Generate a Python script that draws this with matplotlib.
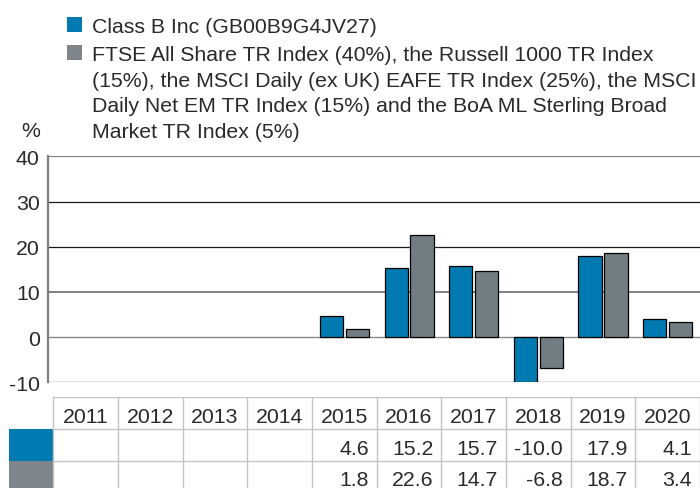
import matplotlib
matplotlib.use("Agg")
import matplotlib.pyplot as plt
from matplotlib.patches import Rectangle
import numpy as np

# ---- data ----
years = ["2011", "2012", "2013", "2014", "2015", "2016", "2017", "2018", "2019", "2020"]
fund_name = "Class B Inc (GB00B9G4JV27)"
index_lines = [
    "FTSE All Share TR Index (40%), the Russell 1000 TR Index",
    "(15%), the MSCI Daily (ex UK) EAFE TR Index (25%), the MSCI",
    "Daily Net EM TR Index (15%) and the BoA ML Sterling Broad",
    "Market TR Index (5%)",
]
fund_values = [None, None, None, None, 4.6, 15.2, 15.7, -10.0, 17.9, 4.1]
index_values = [None, None, None, None, 1.8, 22.6, 14.7, -6.8, 18.7, 3.4]
yticks = [-10, 0, 10, 20, 30, 40]

BLUE = "#007AB1"
GREY = "#717D83"
GREY_CELL = "#7E868C"
FONT = ["Liberation Sans", "DejaVu Sans"]
FS = 15.3
TXT = "#2a2a2a"

W, H = 700, 489
fig = plt.figure(figsize=(W / 100, H / 100), dpi=100)
plt.rcParams["font.family"] = FONT


def fx(px):
    return px / W


def fy(py):
    return 1 - py / H


# ---- main chart axes ----
ax_left, ax_top, ax_bottom = 48, 157.3, 383.3
ax = fig.add_axes([fx(ax_left), fy(ax_bottom), 1 - fx(ax_left), (ax_bottom - ax_top) / H])
ax.set_xlim(-0.587, 9.5)
ax.set_ylim(-10, 40)

x = np.arange(len(years))
fv = np.array([np.nan if v is None else v for v in fund_values])
iv = np.array([np.nan if v is None else v for v in index_values])
bw = 0.36
off = 0.2
# gridlines
grid_styles = {40: ("#808080", 1.6), 30: ("#1a1a1a", 0.9), 20: ("#1a1a1a", 0.9),
               10: ("#808080", 1.4), 0: ("#8a8a8a", 1.0), -10: ("#1a1a1a", 0.9)}
for yv in yticks:
    c, lw = grid_styles[yv]
    ax.axhline(yv, color=c, lw=lw, zorder=1)

ax.bar(x - off, fv, width=bw, color=BLUE, edgecolor="black", linewidth=0.9, zorder=3)
ax.bar(x + off, iv, width=bw, color=GREY, edgecolor="black", linewidth=0.9, zorder=3)

for s in ["top", "right", "bottom"]:
    ax.spines[s].set_visible(False)
ax.spines["left"].set_color("#808080")
ax.spines["left"].set_linewidth(1.6)
ax.set_xticks([])
ax.set_yticks(yticks)
ax.set_yticklabels([str(t) for t in yticks], fontsize=FS, color=TXT)
ax.tick_params(axis="y", length=0, pad=6)

# ---- legend ----
fig.patches.append(Rectangle((fx(67), fy(32.7)), fx(15), 14.4 / H, transform=fig.transFigure,
                             facecolor=BLUE, edgecolor="none"))
fig.patches.append(Rectangle((fx(67), fy(60.7)), fx(15), 14.4 / H, transform=fig.transFigure,
                             facecolor=GREY_CELL, edgecolor="none"))
fig.text(fx(92), fy(33), fund_name, fontsize=FS, va="baseline", ha="left", color=TXT)
base = 61
for i, line in enumerate(index_lines):
    fig.text(fx(92), fy(base + 25.6 * i), line, fontsize=FS, va="baseline", ha="left",
             color=TXT)
fig.text(fx(40.5), fy(137), "%", fontsize=FS, va="baseline", ha="right", color=TXT)

# ---- data table ----
tab_top = 398.3
row_h = 31.6
tax = fig.add_axes([fx(9), 0, 1 - fx(9), (H - tab_top) / H])
tax.set_xlim(-1.185, 9.5)
tax.set_ylim((H - tab_top) / row_h, 0)
tax.axis("off")
LC = "#c4c4c4"
nrow_bottom = (H - tab_top) / row_h + 0.2
for k in range(len(years) + 1):
    tax.plot([k - 0.5, k - 0.5], [0, nrow_bottom], color=LC, lw=1.0, clip_on=False)
for r in range(3):
    tax.plot([-0.5, 9.5], [r, r], color=LC, lw=1.0)
tax.add_patch(Rectangle((-1.185, 1), 0.685, 1, facecolor=BLUE, edgecolor="none"))
tax.add_patch(Rectangle((-1.185, 2), 0.685, 2, facecolor=GREY_CELL, edgecolor="none"))

for i, yr in enumerate(years):
    tax.text(i, 0.78, yr, ha="center", va="baseline", fontsize=FS, color=TXT)
    for r, vals in ((1, fund_values), (2, index_values)):
        v = vals[i]
        if v is not None:
            tax.text(i + 0.38, r + 0.79, f"{v:.1f}", ha="right", va="baseline",
                     fontsize=FS, color=TXT)

fig.savefig("out.png", dpi=100)
